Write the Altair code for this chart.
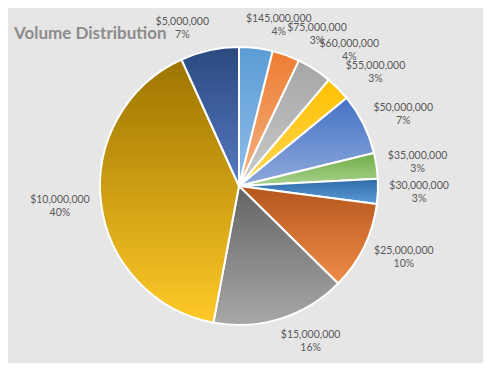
import altair as alt
import pandas as pd

amounts = ["$145,000,000", "$75,000,000", "$60,000,000", "$55,000,000", "$50,000,000",
           "$35,000,000", "$30,000,000", "$25,000,000", "$15,000,000", "$10,000,000", "$5,000,000"]
shares = [3.9, 3.2, 4.1, 2.9, 7.1, 3.0, 2.9, 10.3, 15.6, 40.3, 6.8]
top_colors = ["#5B9BD5", "#ED7D31", "#A5A5A5", "#FFC000", "#4472C4", "#70AD47",
              "#2E6AA8", "#B4561D", "#636363", "#9C7400", "#2A4A7F"]
bottom_colors = ["#90BEE8", "#F4B183", "#CBCBCB", "#FFD752", "#8FAADC", "#A9D18E",
                 "#5B9BD5", "#F08C47", "#A8A8A8", "#FFC928", "#5679C2"]

df = pd.DataFrame({"order": list(range(len(amounts))), "amount": amounts, "share": shares})

base = (
    alt.Chart(df)
    .transform_joinaggregate(total="sum(share)")
    .transform_window(cum="sum(share)", sort=[alt.SortField("order")], frame=[None, 0])
    .transform_calculate(
        start="(datum.cum - datum.share) / datum.total",
        end="datum.cum / datum.total",
    )
    .transform_calculate(mid="(datum.start + datum.end) / 2")
)

theta_scale = alt.Scale(domain=[0, 1], range=[0, 6.283185307])
cx, cy = 231, 178

layers = []
for i in range(len(amounts)):
    grad = {
        "gradient": "linear", "x1": 0, "y1": 0, "x2": 0, "y2": 1,
        "stops": [{"offset": 0, "color": top_colors[i]}, {"offset": 1, "color": bottom_colors[i]}],
    }
    layers.append(
        base.transform_filter(f"datum.order == {i}")
        .mark_arc(outerRadius=139, stroke="white", strokeWidth=2, fill=grad)
        .encode(
            theta=alt.Theta("start:Q", scale=theta_scale),
            theta2="end:Q",
            x=alt.value(cx),
            y=alt.value(cy),
        )
    )

labels = (
    base.transform_calculate(
        label="[datum.amount, format(datum.share / datum.total, '.0%')]",
        sn="sin(datum.mid * 2 * PI)",
        cs="cos(datum.mid * 2 * PI)",
    )
    .transform_calculate(
        lx="150 * datum.sn + 32 * datum.sn / (abs(datum.sn) + 0.06)",
        ly="162 * datum.cs",
    )
    .transform_calculate(
        r="sqrt(datum.lx * datum.lx + datum.ly * datum.ly)",
        ang="(atan2(datum.lx, datum.ly) / (2 * PI) + 1) % 1",
    )
    .mark_text(font="Lato", fontSize=10.5, color="#595959", lineHeight=13,
               baseline="middle", dy=-6)
    .encode(
        theta=alt.Theta("ang:Q", scale=theta_scale),
        radius=alt.Radius("r:Q", scale=None),
        text="label:N",
        x=alt.value(cx),
        y=alt.value(cy),
    )
)

chart = (
    alt.layer(*layers, labels)
    .properties(
        width=475,
        height=355,
        autosize=alt.AutoSizeParams(type="none"),
        padding=0,
        background="#E7E6E6",
        title=alt.TitleParams(
            "Volume Distribution", anchor="start", font="Lato", fontSize=17, fontWeight="bold",
            color="#8C8C8C", dx=6, dy=48, offset=0, baseline="alphabetic", frame="group",
        ),
    )
    .configure_view(stroke=None)
)

chart.save("out.html", embed_options={"renderer": "svg", "actions": False})
